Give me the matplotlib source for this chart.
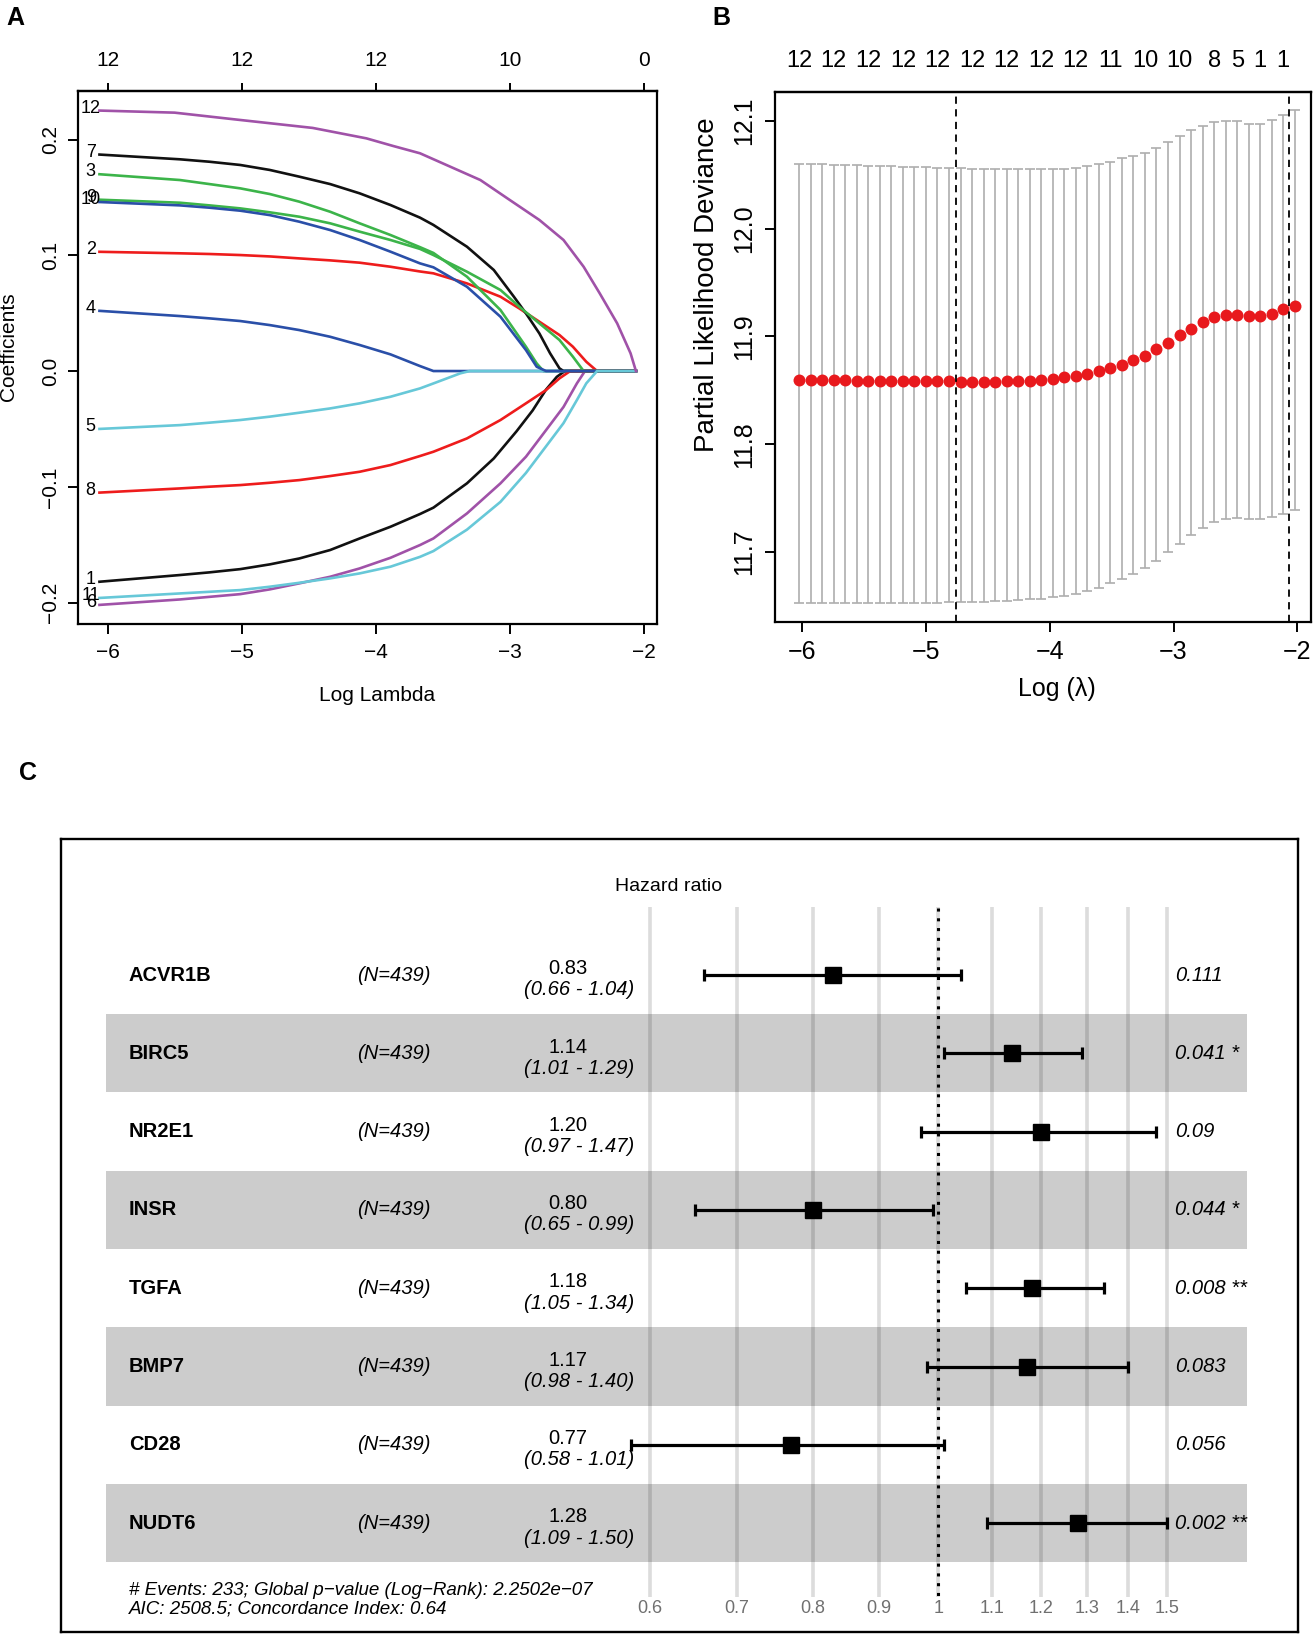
import matplotlib
matplotlib.use("Agg")
import matplotlib.pyplot as plt
import numpy as np
from matplotlib.ticker import NullLocator

plt.rcParams["font.family"] = ["Liberation Sans", "DejaVu Sans"]

W, H = 1314, 1635

# ---------------- panel A: lasso coefficient paths (log lambda, coef) ----------------
path_1 = [(-6.06, -0.182), (-5.46, -0.1762), (-5.24, -0.1739), (-5.01, -0.1711), (-4.79, -0.1670),
          (-4.57, -0.1619), (-4.34, -0.1546), (-4.12, -0.1446), (-3.89, -0.1345), (-3.67, -0.1235),
          (-3.57, -0.118), (-3.32, -0.097), (-3.12, -0.0755), (-2.95, -0.052), (-2.83, -0.034),
          (-2.73, -0.016), (-2.65, -0.005), (-2.59, 0.0), (-2.06, 0.0)]
path_2 = [(-6.06, 0.103), (-5.46, 0.1017), (-5.24, 0.1011), (-5.01, 0.1002), (-4.79, 0.0990),
          (-4.57, 0.0973), (-4.34, 0.0956), (-4.12, 0.0936), (-3.89, 0.0901), (-3.67, 0.0860),
          (-3.57, 0.0844), (-3.32, 0.0757), (-3.07, 0.0642), (-2.93, 0.0541), (-2.78, 0.0426),
          (-2.63, 0.0311), (-2.53, 0.021), (-2.43, 0.008), (-2.35, 0.0), (-2.06, 0.0)]
path_3 = [(-6.06, 0.170), (-5.46, 0.165), (-5.24, 0.1615), (-5.01, 0.1578), (-4.79, 0.1529),
          (-4.57, 0.1463), (-4.34, 0.1376), (-4.12, 0.1276), (-3.89, 0.1175), (-3.67, 0.107),
          (-3.57, 0.102), (-3.32, 0.0815), (-3.07, 0.0527), (-2.88, 0.021), (-2.80, 0.0066),
          (-2.75, 0.0), (-2.06, 0.0)]
path_4 = [(-6.06, 0.052), (-5.46, 0.0475), (-5.24, 0.0455), (-5.01, 0.0432), (-4.79, 0.0397),
          (-4.57, 0.0354), (-4.34, 0.0296), (-4.12, 0.0225), (-3.89, 0.0144), (-3.67, 0.0043),
          (-3.57, 0.0), (-2.06, 0.0)]
path_5 = [(-6.06, -0.050), (-5.46, -0.0467), (-5.24, -0.0446), (-5.01, -0.0423), (-4.79, -0.0394),
          (-4.57, -0.036), (-4.34, -0.0323), (-4.12, -0.0279), (-3.89, -0.0222), (-3.67, -0.015),
          (-3.57, -0.0107), (-3.37, -0.002), (-3.30, 0.0), (-2.06, 0.0)]
path_6 = [(-6.06, -0.202), (-5.46, -0.1973), (-5.01, -0.1927), (-4.79, -0.1886), (-4.57, -0.1834),
          (-4.34, -0.1777), (-4.12, -0.1705), (-3.89, -0.1613), (-3.67, -0.1503), (-3.57, -0.1446),
          (-3.32, -0.123), (-3.07, -0.097), (-2.88, -0.074), (-2.73, -0.051), (-2.60, -0.031),
          (-2.50, -0.0106), (-2.44, 0.0), (-2.06, 0.0)]
path_7 = [(-6.06, 0.187), (-5.46, 0.1829), (-5.24, 0.1808), (-5.01, 0.178), (-4.79, 0.1737),
          (-4.57, 0.1679), (-4.34, 0.1615), (-4.12, 0.1535), (-3.89, 0.1434), (-3.67, 0.1325),
          (-3.57, 0.1262), (-3.32, 0.1074), (-3.12, 0.0873), (-2.97, 0.0642), (-2.88, 0.0498),
          (-2.78, 0.0325), (-2.70, 0.0153), (-2.63, 0.0023), (-2.60, 0.0), (-2.06, 0.0)]
path_8 = [(-6.06, -0.105), (-5.46, -0.1014), (-5.24, -0.0999), (-5.01, -0.0985), (-4.79, -0.0965),
          (-4.57, -0.0942), (-4.34, -0.0907), (-4.12, -0.087), (-3.89, -0.0812), (-3.67, -0.0734),
          (-3.57, -0.0697), (-3.32, -0.0582), (-3.07, -0.0423), (-2.88, -0.0279), (-2.73, -0.0164),
          (-2.63, -0.0063), (-2.55, 0.0), (-2.06, 0.0)]
path_9 = [(-6.06, 0.148), (-5.46, 0.1454), (-5.24, 0.1431), (-5.01, 0.1405), (-4.79, 0.1371),
          (-4.57, 0.1333), (-4.34, 0.1276), (-4.12, 0.1204), (-3.89, 0.1132), (-3.67, 0.1055),
          (-3.57, 0.1002), (-3.32, 0.0858), (-3.07, 0.070), (-2.93, 0.0556), (-2.78, 0.0412),
          (-2.63, 0.0268), (-2.53, 0.0124), (-2.45, 0.0), (-2.06, 0.0)]
path_10 = [(-6.06, 0.146), (-5.46, 0.1431), (-5.24, 0.1411), (-5.01, 0.1385), (-4.79, 0.1347),
           (-4.57, 0.129), (-4.34, 0.1218), (-4.12, 0.1132), (-3.89, 0.1031), (-3.67, 0.093),
           (-3.57, 0.0896), (-3.32, 0.0728), (-3.07, 0.0469), (-2.88, 0.0181), (-2.80, 0.0037),
           (-2.73, 0.0), (-2.06, 0.0)]
path_11 = [(-6.06, -0.196), (-5.46, -0.1921), (-5.01, -0.1892), (-4.79, -0.1863), (-4.57, -0.1829),
           (-4.34, -0.1791), (-4.12, -0.1748), (-3.89, -0.1690), (-3.67, -0.1605), (-3.57, -0.1555),
           (-3.32, -0.137), (-3.07, -0.113), (-2.88, -0.088), (-2.73, -0.065), (-2.60, -0.045),
           (-2.50, -0.025), (-2.43, -0.0106), (-2.35, 0.0), (-2.06, 0.0)]
path_12 = [(-6.06, 0.225), (-5.50, 0.2232), (-5.06, 0.2175), (-4.47, 0.2100), (-4.07, 0.2010),
           (-3.87, 0.1944), (-3.67, 0.1881), (-3.22, 0.165), (-3.00, 0.1477), (-2.78, 0.1305),
           (-2.60, 0.1132), (-2.45, 0.0901), (-2.33, 0.0671), (-2.20, 0.0412), (-2.10, 0.0153),
           (-2.06, 0.0)]

lasso_paths = [path_1, path_2, path_3, path_4, path_5, path_6,
               path_7, path_8, path_9, path_10, path_11, path_12]
lasso_colors = ["#111111", "#EE1C1C", "#3CB44A", "#2A4FA8", "#67C8D8", "#A052A8"]
lasso_top_ticks = [-6, -5, -4, -3, -2]
lasso_top_df = [12, 12, 12, 10, 0]

# ---------------- panel B: cross-validation curve ----------------
cv_log_lambda = [-6.027, -5.934, -5.841, -5.747, -5.654, -5.561, -5.468, -5.375, -5.281, -5.188,
                 -5.095, -5.002, -4.909, -4.815, -4.722, -4.629, -4.536, -4.443, -4.349, -4.256,
                 -4.163, -4.070, -3.977, -3.883, -3.790, -3.697, -3.604, -3.511, -3.417, -3.324,
                 -3.231, -3.138, -3.045, -2.951, -2.858, -2.765, -2.672, -2.579, -2.485, -2.392,
                 -2.299, -2.206, -2.113, -2.019]
cv_mean = [11.860, 11.860, 11.860, 11.860, 11.860, 11.859, 11.859, 11.859, 11.859, 11.859,
           11.859, 11.859, 11.859, 11.859, 11.858, 11.858, 11.858, 11.858, 11.859, 11.859,
           11.859, 11.860, 11.861, 11.862, 11.863, 11.865, 11.868, 11.871, 11.874, 11.878,
           11.882, 11.888, 11.894, 11.901, 11.907, 11.913, 11.918, 11.920, 11.920, 11.919,
           11.919, 11.921, 11.925, 11.928]
cv_upper = [12.060, 12.060, 12.060, 12.059, 12.059, 12.059, 12.058, 12.058, 12.058, 12.057,
            12.057, 12.057, 12.056, 12.056, 12.056, 12.055, 12.055, 12.055, 12.055, 12.055,
            12.055, 12.055, 12.055, 12.055, 12.056, 12.058, 12.060, 12.062, 12.065, 12.067,
            12.070, 12.075, 12.080, 12.086, 12.091, 12.095, 12.099, 12.100, 12.100, 12.097,
            12.097, 12.101, 12.105, 12.110]
cv_lower = [11.653, 11.653, 11.653, 11.653, 11.653, 11.653, 11.653, 11.653, 11.653, 11.653,
            11.653, 11.653, 11.653, 11.654, 11.654, 11.654, 11.654, 11.655, 11.655, 11.656,
            11.657, 11.657, 11.658, 11.659, 11.661, 11.664, 11.667, 11.671, 11.675, 11.680,
            11.685, 11.692, 11.700, 11.708, 11.716, 11.722, 11.728, 11.731, 11.732, 11.731,
            11.731, 11.733, 11.735, 11.739]
cv_lambda_min = -4.76
cv_lambda_1se = -2.07
cv_top_idx = [0, 3, 6, 9, 12, 15, 18, 21, 24, 27, 30, 33, 36, 38, 40, 42]
cv_top_labels = ["12", "12", "12", "12", "12", "12", "12", "12", "12",
                 "11", "10", "10", "8", "5", "1", "1"]

# ---------------- panel C: multivariate Cox forest plot ----------------
genes = ["ACVR1B", "BIRC5", "NR2E1", "INSR", "TGFA", "BMP7", "CD28", "NUDT6"]
n_obs = [439, 439, 439, 439, 439, 439, 439, 439]
hr = [0.83, 1.14, 1.20, 0.80, 1.18, 1.17, 0.77, 1.28]
hr_lo = [0.66, 1.01, 0.97, 0.65, 1.05, 0.98, 0.58, 1.09]
hr_hi = [1.04, 1.29, 1.47, 0.99, 1.34, 1.40, 1.01, 1.50]
p_text = ["0.111", "0.041 *", "0.09", "0.044 *", "0.008 **", "0.083", "0.056", "0.002 **"]
hr_ticks = [0.6, 0.7, 0.8, 0.9, 1, 1.1, 1.2, 1.3, 1.4, 1.5]
footnote = ["# Events: 233; Global p\u2212value (Log\u2212Rank): 2.2502e\u221207",
            "AIC: 2508.5; Concordance Index: 0.64"]


def minus(s):
    return s.replace("-", "\u2212")


fig = plt.figure(figsize=(W / 100, H / 100), dpi=100)

# ---------- A ----------
axA = fig.add_axes([78 / W, 1 - 624 / H, 579.4 / W, 533 / H])
for i, path in enumerate(lasso_paths):
    xs = [p[0] for p in path]
    ys = [p[1] for p in path]
    axA.plot(xs, ys, color=lasso_colors[i % 6], lw=1.9, solid_joinstyle="round")
    axA.text(-6.125, ys[0] + 0.002, str(i + 1), ha="center", va="center", fontsize=13)
axA.set_xlim(-6.22, -1.90)
axA.set_ylim(-0.2185, 0.2419)
axA.set_xticks([-6, -5, -4, -3, -2], labels=[minus(str(v)) for v in [-6, -5, -4, -3, -2]])
yt = [-0.2, -0.1, 0.0, 0.1, 0.2]
axA.set_yticks(yt, labels=[minus(f"{v:.1f}") for v in yt])
axA.tick_params(length=7, width=1.4, labelsize=15)
axA.tick_params(axis="x", pad=7)
axA.tick_params(axis="y", pad=6, labelrotation=90)
for lab in axA.get_yticklabels():
    lab.set_va("center")
for s in axA.spines.values():
    s.set_linewidth(1.6)
topA = axA.secondary_xaxis("top")
topA.set_xticks(lasso_top_ticks, labels=[str(v) for v in lasso_top_df])
topA.tick_params(length=6, width=1.4, labelsize=15, pad=9)
topA.spines["top"].set_linewidth(1.6)
axA.set_xlabel("Log Lambda", fontsize=15)
axA.xaxis.set_label_coords(0.517, -0.135)
axA.xaxis.label.set_va("center")
axA.set_ylabel("Coefficients", fontsize=15)
axA.yaxis.set_label_coords(-0.12, 0.52)
axA.yaxis.label.set_va("center")

# ---------- B ----------
axB = fig.add_axes([775.4 / W, 1 - 622.3 / H, 535.3 / W, 530.7 / H])
mean_arr = np.array(cv_mean)
axB.errorbar(cv_log_lambda, cv_mean,
             yerr=[mean_arr - np.array(cv_lower), np.array(cv_upper) - mean_arr],
             fmt="none", ecolor="#AEAEAE", elinewidth=1.2, capsize=3.8, capthick=1.2)
axB.plot(cv_log_lambda, cv_mean, "o", color="#E8191D", ms=8.6, mec="none", zorder=3)
for v in (cv_lambda_min, cv_lambda_1se):
    axB.axvline(v, color="black", lw=1.3, ls=(0, (4, 3)), zorder=4)
axB.set_xlim(-6.219, -1.891)
axB.set_ylim(11.635, 12.127)
axB.set_xticks([-6, -5, -4, -3, -2], labels=[minus(str(v)) for v in [-6, -5, -4, -3, -2]])
ytb = [11.7, 11.8, 11.9, 12.0, 12.1]
axB.set_yticks(ytb, labels=[f"{v:.1f}" for v in ytb])
axB.tick_params(length=7, width=1.4, labelsize=18)
axB.tick_params(axis="x", pad=6)
axB.tick_params(axis="y", pad=7, labelrotation=90)
for lab in axB.get_yticklabels():
    lab.set_va("center")
for s in axB.spines.values():
    s.set_linewidth(1.6)
topB = axB.secondary_xaxis("top")
topB.set_xticks([cv_log_lambda[i] for i in cv_top_idx], labels=cv_top_labels)
topB.tick_params(length=0, labelsize=17, pad=14)
topB.spines["top"].set_linewidth(1.6)
axB.set_xlabel("Log (\u03bb)", fontsize=18)
axB.xaxis.set_label_coords(0.526, -0.125)
axB.xaxis.label.set_va("center")
axB.set_ylabel("Partial Likelihood Deviance", fontsize=20)
axB.yaxis.set_label_coords(-0.128, 0.636)
axB.yaxis.label.set_va("center")

# ---------- C ----------
axC = fig.add_axes([61.4 / W, 1 - 1632 / H, 1236.2 / W, 793 / H])
axC.set_xscale("log")
axC.set_xlim(0.2115, 1.889)
axC.set_ylim(8.39, -1.737)
axC.set_xticks([])
axC.set_yticks([])
axC.xaxis.set_minor_locator(NullLocator())
for s in axC.spines.values():
    s.set_linewidth(1.7)

rows = np.arange(len(genes))
axC.vlines(hr_ticks, -0.87, 7.94, colors="#DCDCDC", lw=2.6, zorder=1)
for r in rows[1::2]:
    axC.axhspan(r - 0.5, r + 0.5, xmin=0.0361, xmax=0.959, color="black", alpha=0.2, lw=0, zorder=2)
axC.vlines(1, -0.85, 7.94, colors="black", lw=2.2, linestyles=(0, (1, 2.2)), zorder=3)
hr_arr = np.array(hr)
axC.errorbar(hr, rows, xerr=[hr_arr - np.array(hr_lo), np.array(hr_hi) - hr_arr],
             fmt="s", color="black", ms=11.5, elinewidth=2.3, capsize=4.3, capthick=2.3, zorder=4)

tr = axC.get_yaxis_transform()
axC.text(0.4915, -1.136, "Hazard ratio", transform=tr, ha="center", va="center", fontsize=14)
for r, g, n, h, lo, hi, p in zip(rows, genes, n_obs, hr, hr_lo, hr_hi, p_text):
    axC.text(0.0544, r, g, transform=tr, ha="left", va="center", fontsize=14.5, weight="bold")
    axC.text(0.269, r, f"(N={n})", transform=tr, ha="center", va="center", fontsize=14.5, style="italic")
    axC.text(0.410, r - 0.08, f"{h:.2f}", transform=tr, ha="center", va="center", fontsize=14.5)
    axC.text(0.419, r + 0.19, f"({lo:.2f} - {hi:.2f})", transform=tr, ha="center", va="center",
             fontsize=14.5, style="italic")
    axC.text(0.9008, r, p, transform=tr, ha="left", va="center", fontsize=14.5, style="italic")
for t in hr_ticks:
    axC.text(t, 8.09, f"{t:g}", ha="center", va="center", fontsize=13, color="#707070")
axC.text(0.0544, 7.86, footnote[0], transform=tr, ha="left", va="center", fontsize=13.5, style="italic")
axC.text(0.0544, 8.10, footnote[1], transform=tr, ha="left", va="center", fontsize=13.5, style="italic")

# panel letters
for x, y, s in [(6, 6, "A"), (712, 6, "B"), (19, 761, "C")]:
    fig.text(x / W, 1 - y / H, s, fontsize=18, weight="bold", ha="left", va="top")

fig.savefig("out.png", dpi=100)
